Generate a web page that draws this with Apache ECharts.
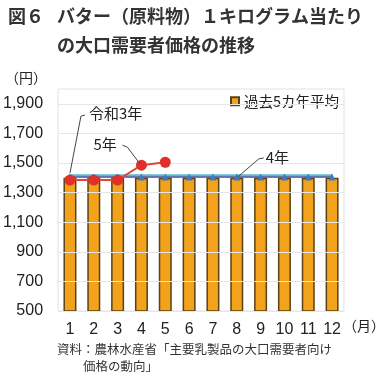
<!DOCTYPE html>
<html><head><meta charset="utf-8">
<script src="https://cdn.jsdelivr.net/npm/echarts@6/dist/echarts.min.js"></script>
<style>html,body{margin:0;padding:0;background:#fff}#c{width:380px;height:381px}</style>
</head><body><div id="c"></div>
<script>
// ---- data ----
const months = ['1','2','3','4','5','6','7','8','9','10','11','12'];
const avg5 = [1400,1400,1400,1400,1400,1400,1400,1400,1400,1400,1400,1400];
const r3 = [1418,1418,1418,1418,1418,1418,1418,1418,1418,1418,1418,1418];
const r4 = [1406,1406,1406,1406,1406,1406,1406,1406,1406,1406,1406,1406];
const r5 = [1385,1385,1385,1485,1505];
const yTicks = [500,700,900,1100,1300,1500,1700,1900];
const yMin = 500, yMax = 2000;

const FONT = "'Liberation Sans','Noto Sans CJK JP',sans-serif";
const JP = "'Noto Sans CJK JP',sans-serif";
const chart = echarts.init(document.getElementById('c'), null, {renderer:'canvas'});

function fmt(v){ return String(v).replace(/\B(?=(\d{3})+(?!\d))/g, ','); }

chart.setOption({
  animation:false,
  textStyle:{fontFamily:FONT},
  title:[
    {text:'図６', left:3, top:2, textStyle:{fontFamily:JP, fontSize:18, fontWeight:'bold', color:'#333'}},
    {text:'バター（原料物）１キログラム当たり', left:52, top:2, textStyle:{fontFamily:JP, fontSize:18, fontWeight:'bold', color:'#333'}},
    {text:'の大口需要者価格の推移', left:52, top:31, textStyle:{fontFamily:JP, fontSize:18, fontWeight:'bold', color:'#333'}}
  ],
  legend:{
    data:['過去5カ年平均'], left:225, top:89, icon:'rect', itemWidth:8, itemHeight:8, itemGap:4,
    textStyle:{fontFamily:JP, fontSize:14.5, color:'#222'}
  },
  grid:{left:57, right:36, top:89, bottom:70, show:true, borderColor:'#e2e2e2', borderWidth:1, containLabel:false},
  xAxis:{
    type:'category', data:months,
    axisLine:{show:false}, axisTick:{show:false},
    axisLabel:{fontSize:16, color:'#222', margin:11, fontFamily:FONT}
  },
  yAxis:{
    type:'value', min:yMin, max:yMax, interval:100,
    axisLine:{show:false}, axisTick:{show:false}, splitLine:{show:false},
    axisLabel:{fontSize:16, color:'#222', margin:15, fontFamily:FONT,
      formatter:function(v){ return yTicks.indexOf(v) >= 0 ? fmt(v) : ''; }}
  },
  series:[
    {name:'gridlines', type:'line', data:[], z:1, silent:true,
      markLine:{silent:true, symbol:'none', label:{show:false}, animation:false,
        lineStyle:{color:'#e6e6e6', type:'solid', width:1},
        data: yTicks.map(v=>({yAxis:v}))}},
    {name:'過去5カ年平均', type:'bar', data:avg5, barWidth:13, z:2,
      itemStyle:{color:'#F3A21B', borderColor:'#5a4214', borderWidth:1.5}},
    {name:'令和3年', type:'line', data:r3, z:3, symbol:'none',
      lineStyle:{color:'#5DB9CF', width:2}, itemStyle:{color:'#5DB9CF'}},
    {name:'4年', type:'line', data:r4, z:4, symbol:'triangle', symbolSize:7,
      lineStyle:{color:'#3F4F9C', width:1.5}, itemStyle:{color:'#3A7DB8'}},
    {name:'5年', type:'line', data:r5, z:5, symbol:'circle', symbolSize:11,
      lineStyle:{color:'#E0473A', width:2}, itemStyle:{color:'#E0302A'}}
  ]
});

// annotations (leader lines computed from data positions)
const p3 = chart.convertToPixel({seriesIndex:2}, [0, r3[0]]);
const p4 = chart.convertToPixel({seriesIndex:3}, [7, r4[7]]);
const p5 = chart.convertToPixel({seriesIndex:4}, [3, r5[3]]);
const lead = {stroke:'#444', lineWidth:1, fill:null};
const annTxt = {fontFamily:JP, fontSize:15, fill:'#222'};
chart.setOption({
  graphic:[
    {type:'polyline', shape:{points:[[p3[0],p3[1]-2],[p3[0]+11,p3[1]-59],[p3[0]+15,p3[1]-60]]}, style:lead, z:10},
    {type:'text', x:p3[0]+19, y:p3[1]-69, style:Object.assign({text:'令和3年'}, annTxt), z:10},
    {type:'polyline', shape:{points:[[p5[0]-2,p5[1]-2],[p5[0]-14,p5[1]-18],[p5[0]-19,p5[1]-20]]}, style:lead, z:10},
    {type:'text', x:p5[0]-48, y:p5[1]-28, style:Object.assign({text:'5年'}, annTxt), z:10},
    {type:'polyline', shape:{points:[[p4[0]+1,p4[1]],[p4[0]+22,p4[1]-18],[p4[0]+27,p4[1]-19]]}, style:lead, z:10},
    {type:'text', x:p4[0]+29, y:p4[1]-27, style:Object.assign({text:'4年'}, annTxt), z:10},
    {type:'text', x:5, y:71, style:{text:'（円）', fontFamily:JP, fontSize:14, fill:'#222'}},
    {type:'text', x:343, y:319, style:{text:'（月）', fontFamily:JP, fontSize:14, fill:'#222'}},
    {type:'text', x:57, y:343, style:{text:'資料：農林水産省「主要乳製品の大口需要者向け', fontFamily:JP, fontSize:12.5, fill:'#333'}},
    {type:'text', x:83, y:360, style:{text:'価格の動向」', fontFamily:JP, fontSize:12.5, fill:'#333'}}
  ]
});
</script></body></html>
